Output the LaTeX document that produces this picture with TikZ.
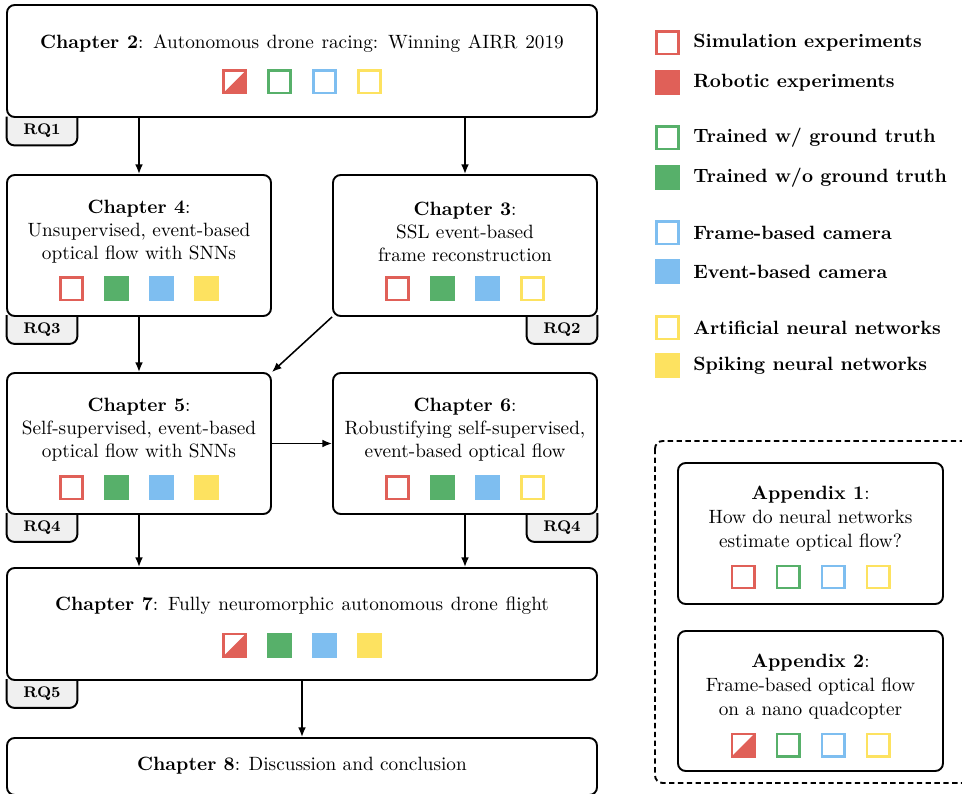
\documentclass[tikz,border=0pt]{standalone}
\usetikzlibrary{arrows.meta,backgrounds}
\definecolor{cred}{RGB}{224,96,88}
\definecolor{cgreen}{RGB}{87,176,106}
\definecolor{cblue}{RGB}{126,190,240}
\definecolor{cyellow}{RGB}{253,226,96}
\definecolor{tabgray}{RGB}{240,240,240}
\newcommand{\sqrow}[7]{%
  \node[#4] (#1a) at ({#2-67.5},#3) {};
  \node[#5] (#1b) at ({#2-22.5},#3) {};
  \node[#6] (#1c) at ({#2+22.5},#3) {};
  \node[#7] (#1d) at ({#2+67.5},#3) {};}
\begin{document}
\begin{tikzpicture}[x=0.52pt,y=-0.52pt,
  box/.style={draw, line width=1pt, rounded corners=4pt, fill=white, inner sep=0pt},
  bx/.style 2 args={box, minimum width=#1*0.52pt, minimum height=#2*0.52pt},
  txt/.style={inner sep=0pt, align=center},
  leg/.style={inner sep=0pt, anchor=west, font=\bfseries},
  tab/.style={inner sep=0pt, minimum width=70*0.52pt, minimum height=28*0.52pt, font=\footnotesize\bfseries},
  tabline/.style={draw, line width=1pt, fill=tabgray, rounded corners=4pt},
  arr/.style={line width=0.8pt, -{Latex[length=5pt,width=4pt]}},
  sq/.style={draw, line width=1.5pt, minimum size=11.5pt, inner sep=0pt},
  rO/.style={sq, draw=cred},
  rF/.style={sq, draw=cred, fill=cred},
  rH/.style={sq, draw=cred, path picture={\fill[cred] (path picture bounding box.north east) -- (path picture bounding box.south east) -- (path picture bounding box.south west) -- cycle;}},
  gO/.style={sq, draw=cgreen},
  gF/.style={sq, draw=cgreen, fill=cgreen},
  bO/.style={sq, draw=cblue},
  bF/.style={sq, draw=cblue, fill=cblue},
  yO/.style={sq, draw=cyellow},
  yF/.style={sq, draw=cyellow, fill=cyellow},
]
\clip (0,0) rectangle (962,794);

% RQ tabs
\node[tab] (rq1) at (42,131) {RQ1};
\node[tab] (rq3) at (42,329.5) {RQ3};
\node[tab] (rq2) at (562,329.5) {RQ2};
\node[tab] (rq4a) at (42,527.5) {RQ4};
\node[tab] (rq4b) at (562,527.5) {RQ4};
\node[tab] (rq5) at (42,693.5) {RQ5};
\begin{scope}[on background layer]
\foreach \t in {rq1,rq2,rq3,rq4a,rq4b,rq5}
  \path[tabline] (\t.north west) -- (\t.south west) -- (\t.south east) -- (\t.north east);
\end{scope}

% chapter boxes
\node[bx={590}{112}] (c2) at (302,61) {};
\node[bx={264}{141}] (c4) at (139,245.5) {};
\node[bx={264}{141}] (c3) at (465,245.5) {};
\node[bx={264}{141}] (c5) at (139,443.5) {};
\node[bx={264}{141}] (c6) at (465,443.5) {};
\node[bx={590}{112}] (c7) at (302,624) {};
\node[bx={590}{57}] (c8) at (302,766.5) {};

% texts
\node[txt] (c2t) at (302,44) {\spaceskip=4pt plus 1pt\textbf{Chapter 2}: Autonomous drone racing: Winning AIRR 2019};
\node[txt] (c4t) at (139,232) {\textbf{Chapter 4}:\\Unsupervised, event-based\\optical flow with SNNs};
\node[txt] (c3t) at (465,232) {\textbf{Chapter 3}:\\SSL event-based\\frame reconstruction};
\node[txt] (c5t) at (139,430) {\textbf{Chapter 5}:\\Self-supervised, event-based\\optical flow with SNNs};
\node[txt] (c6t) at (465,430) {\textbf{Chapter 6}:\\Robustifying self-supervised,\\event-based optical flow};
\node[txt] (c7t) at (302,606) {\spaceskip=4pt plus 1pt\textbf{Chapter 7}: Fully neuromorphic autonomous drone flight};
\node[txt] (c8t) at (302,766) {\textbf{Chapter 8}: Discussion and conclusion};

% squares
\sqrow{s2}{302}{82}{rH}{gO}{bO}{yO}
\sqrow{s4}{139}{289}{rO}{gF}{bF}{yF}
\sqrow{s3}{465}{289}{rO}{gF}{bF}{yO}
\sqrow{s5}{139}{488}{rO}{gF}{bF}{yF}
\sqrow{s6}{465}{488}{rO}{gF}{bF}{yO}
\sqrow{s7}{302}{645}{rH}{gF}{bF}{yF}

% arrows
\draw[arr] (c2.south -| c4.north) -- (c4.north);
\draw[arr] (c2.south -| c3.north) -- (c3.north);
\draw[arr] (c4.south) -- (c5.north);
\draw[arr] (c3.south west) -- (c5.north east);
\draw[arr] (c5.east) -- (c6.west);
\draw[arr] (c5.south) -- (c5.south |- c7.north);
\draw[arr] (c6.south) -- (c6.south |- c7.north);
\draw[arr] (c7.south) -- (c8.north);

% legend
\node[rO] (l1) at (667.5,43) {};
\node[rF] (l2) at (667.5,83) {};
\node[gO] (l3) at (667.5,138) {};
\node[gF] (l4) at (667.5,178) {};
\node[bO] (l5) at (667.5,233) {};
\node[bF] (l6) at (667.5,272) {};
\node[yO] (l7) at (667.5,328) {};
\node[yF] (l8) at (667.5,366) {};
\node[leg] (t1) at (693,43) {Simulation experiments};
\node[leg] (t2) at (693,83) {Robotic experiments};
\node[leg] (t3) at (693,138) {Trained w/ ground truth};
\node[leg] (t4) at (693,178) {Trained w/o ground truth};
\node[leg] (t5) at (693,233) {Frame-based camera};
\node[leg] (t6) at (693,272) {Event-based camera};
\node[leg] (t7) at (693,328) {Artificial neural networks};
\node[leg] (t8) at (693,366) {Spiking neural networks};

% appendices
\draw[line width=1pt, dash pattern=on 2.8pt off 1.8pt, rounded corners=4pt] (655,441) rectangle (990,783);
\node[bx={265}{141}] (a1) at (810.5,533.5) {};
\node[bx={265}{140}] (a2) at (810.5,701) {};
\node[txt] (a1t) at (810.5,519) {\textbf{Appendix 1}:\\[0.5pt]How do neural networks\\[0.5pt]estimate optical flow?};
\node[txt] (a2t) at (810.5,687) {\textbf{Appendix 2}:\\[0.5pt]Frame-based optical flow\\[0.5pt]on a nano quadcopter};
\sqrow{sa1}{810.5}{577}{rO}{gO}{bO}{yO}
\sqrow{sa2}{810.5}{745}{rH}{gO}{bO}{yO}
\end{tikzpicture}
\end{document}
